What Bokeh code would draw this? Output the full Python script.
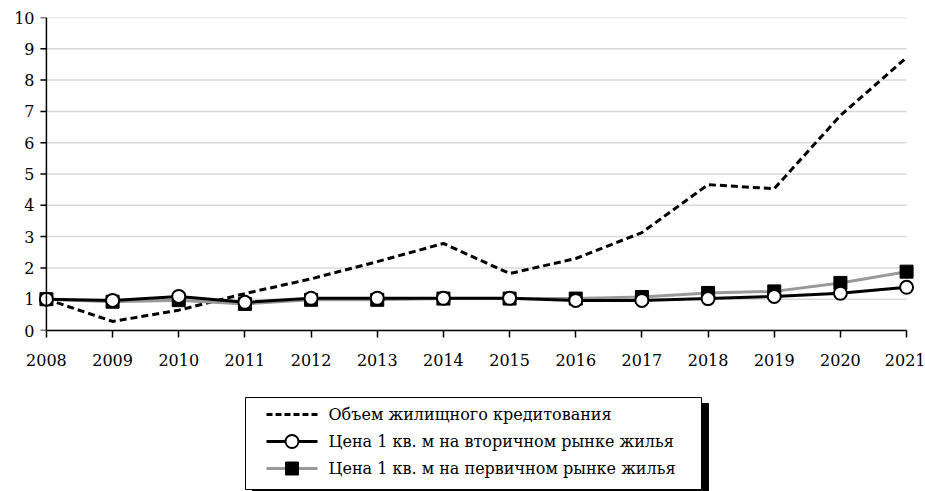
from bokeh.plotting import figure
from bokeh.layouts import column
from bokeh.models import Range1d, FixedTicker, Span
from bokeh.embed import file_html
from bokeh.resources import INLINE
from bokeh.core.properties import value

years = [2008, 2009, 2010, 2011, 2012, 2013, 2014, 2015, 2016, 2017, 2018, 2019, 2020, 2021]
credit = [1.0, 0.29, 0.65, 1.18, 1.65, 2.2, 2.78, 1.82, 2.3, 3.13, 4.66, 4.53, 6.87, 8.72]
secondary = [1.0, 0.96, 1.09, 0.9, 1.03, 1.03, 1.03, 1.03, 0.96, 0.96, 1.02, 1.09, 1.19, 1.38]
primary = [1.0, 0.92, 0.97, 0.85, 0.98, 0.98, 1.02, 1.02, 1.02, 1.07, 1.2, 1.25, 1.52, 1.88]
names = ["Объем жилищного кредитования",
         "Цена 1 кв. м на вторичном рынке жилья",
         "Цена 1 кв. м на первичном рынке жилья"]
y_ticks = list(range(0, 11))

FONT = "DejaVu Serif"
FS = "16px"
PAD = 0.15  # x-range padding (years) so edge markers are not clipped

FRAME_L, FRAME_R = 36, 916
px_per_year = (FRAME_R - FRAME_L) / (years[-1] - years[0] + 2 * PAD)
tick_len = 6 / px_per_year

p = figure(width=925, height=380, output_backend="svg", toolbar_location=None,
           x_range=Range1d(years[0] - PAD, years[-1] + PAD), y_range=Range1d(0, 10),
           min_border_left=FRAME_L, min_border_right=925 - FRAME_R,
           min_border_top=17, min_border_bottom=50)
p.outline_line_color = None
p.background_fill_color = "white"
p.border_fill_color = "white"

p.xgrid.grid_line_color = None
p.ygrid.grid_line_color = None
# horizontal gridlines spanning only the year range
p.multi_line(xs=[[years[0], years[-1]] for _ in y_ticks], ys=[[t, t] for t in y_ticks],
             line_color="#d9d9d9", line_width=1.5)

for ax in (p.xaxis[0], p.yaxis[0]):
    ax.major_tick_line_color = "black"
    ax.major_tick_line_width = 1.5
    ax.major_tick_in = 0
    ax.minor_tick_line_color = None
    ax.major_label_text_font = FONT
    ax.major_label_text_font_size = FS
    ax.major_label_text_color = "black"

p.xaxis[0].axis_line_color = "black"
p.xaxis[0].axis_line_width = 1.5
p.xaxis[0].ticker = FixedTicker(ticks=years)
p.xaxis[0].bounds = (years[0], years[-1])
p.xaxis[0].major_tick_out = 7
p.xaxis[0].major_label_standoff = 16

# y axis: labels from the axis, line and ticks drawn at the 2008 position
p.yaxis[0].ticker = FixedTicker(ticks=y_ticks)
p.yaxis[0].axis_line_color = None
p.yaxis[0].major_tick_line_color = None
p.yaxis[0].major_tick_out = 0
p.yaxis[0].major_label_standoff = 2
p.add_layout(Span(location=years[0], dimension="height", line_color="black", line_width=1.5))
p.segment(x0=[years[0] - tick_len] * len(y_ticks), x1=[years[0]] * len(y_ticks),
          y0=y_ticks, y1=y_ticks, line_color="black", line_width=1.5)

p.line(years, credit, line_color="black", line_width=3, line_dash="7 4")
p.line(years, primary, line_color="#999999", line_width=3)
p.scatter(years, primary, marker="square", size=13, fill_color="black", line_color="black")
p.line(years, secondary, line_color="black", line_width=3)
p.scatter(years, secondary, marker="circle", size=13, fill_color="white", line_color="black", line_width=2)

# legend panel (frame aligned with main plot; data units == pixels)
lg = figure(width=925, height=111, output_backend="svg", toolbar_location=None,
            x_range=Range1d(FRAME_L, FRAME_R), y_range=Range1d(111, 0),
            x_axis_type=None, y_axis_type=None,
            min_border_left=FRAME_L, min_border_right=925 - FRAME_R,
            min_border_top=0, min_border_bottom=0)
lg.outline_line_color = None
lg.xgrid.grid_line_color = None
lg.ygrid.grid_line_color = None

lg.quad(left=[252], right=[708], top=[23], bottom=[115], fill_color="black", line_color="black")
lg.quad(left=[245], right=[701], top=[17], bottom=[109], fill_color="white", line_color="black", line_width=1)

rows = [34, 61, 88]
lg.line([266, 317], [rows[0], rows[0]], line_color="black", line_width=3, line_dash="6 3")
lg.line([266, 317], [rows[1], rows[1]], line_color="black", line_width=3)
lg.scatter([291.5], [rows[1]], marker="circle", size=13, fill_color="white", line_color="black", line_width=2)
lg.line([266, 317], [rows[2], rows[2]], line_color="#999999", line_width=3)
lg.scatter([291.5], [rows[2]], marker="square", size=13, fill_color="black", line_color="black")
lg.text(x=[328, 328, 328], y=rows, text=names, text_font=value(FONT), text_font_size=FS,
        text_baseline="middle", text_align="left", text_color="black")

layout = column(p, lg, spacing=0)
open("out.html", "w").write(file_html(layout, INLINE))
